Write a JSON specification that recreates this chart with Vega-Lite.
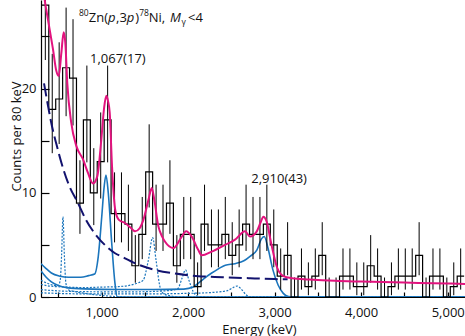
{
  "$schema": "https://vega.github.io/schema/vega-lite/v6.json",
  "width": 424,
  "height": 297,
  "autosize": {"type": "none"},
  "padding": {"left": 41, "top": 0, "right": 0, "bottom": 39},
  "config": {
    "view": {"stroke": null},
    "font": "Open Sans",
    "axis": {"labelFont": "Open Sans", "titleFont": "Open Sans", "labelFontSize": 13, "titleFontSize": 13, "titleFontWeight": "normal", "labelColor": "#111", "titleColor": "#111", "domainColor": "#000", "tickColor": "#000", "grid": false}
  },
  "datasets": {
    "hist": [
      {"E0": 310, "Ec": 350, "N": 28, "lo": 22.74, "hi": 34.36},
      {"E0": 390, "Ec": 430, "N": 18, "lo": 13.8, "hi": 23.33},
      {"E0": 470, "Ec": 510, "N": 19, "lo": 14.68, "hi": 24.44},
      {"E0": 550, "Ec": 590, "N": 22, "lo": 17.35, "hi": 27.77},
      {"E0": 630, "Ec": 670, "N": 21, "lo": 16.46, "hi": 26.66},
      {"E0": 710, "Ec": 750, "N": 9, "lo": 6.06, "hi": 13.12},
      {"E0": 790, "Ec": 830, "N": 17, "lo": 12.92, "hi": 22.21},
      {"E0": 870, "Ec": 910, "N": 10, "lo": 6.9, "hi": 14.28},
      {"E0": 950, "Ec": 990, "N": 13, "lo": 9.45, "hi": 17.71},
      {"E0": 1030, "Ec": 1070, "N": 17, "lo": 12.92, "hi": 22.21},
      {"E0": 1110, "Ec": 1150, "N": 8, "lo": 5.24, "hi": 11.96},
      {"E0": 1190, "Ec": 1230, "N": 8, "lo": 5.24, "hi": 11.96},
      {"E0": 1270, "Ec": 1310, "N": 7, "lo": 4.42, "hi": 10.78},
      {"E0": 1350, "Ec": 1390, "N": 3, "lo": 1.37, "hi": 5.94},
      {"E0": 1430, "Ec": 1470, "N": 6, "lo": 3.63, "hi": 9.6},
      {"E0": 1510, "Ec": 1550, "N": 12, "lo": 8.59, "hi": 16.57},
      {"E0": 1590, "Ec": 1630, "N": 7, "lo": 4.42, "hi": 10.78},
      {"E0": 1670, "Ec": 1710, "N": 7, "lo": 4.42, "hi": 10.78},
      {"E0": 1750, "Ec": 1790, "N": 9, "lo": 6.06, "hi": 13.12},
      {"E0": 1830, "Ec": 1870, "N": 3, "lo": 1.37, "hi": 5.94},
      {"E0": 1910, "Ec": 1950, "N": 6, "lo": 3.63, "hi": 9.6},
      {"E0": 1990, "Ec": 2030, "N": 6, "lo": 3.63, "hi": 9.6},
      {"E0": 2070, "Ec": 2110, "N": 1, "lo": 0.17, "hi": 3.32},
      {"E0": 2150, "Ec": 2190, "N": 7, "lo": 4.42, "hi": 10.78},
      {"E0": 2230, "Ec": 2270, "N": 5, "lo": 2.85, "hi": 8.4},
      {"E0": 2310, "Ec": 2350, "N": 5, "lo": 2.85, "hi": 8.4},
      {"E0": 2390, "Ec": 2430, "N": 6, "lo": 3.63, "hi": 9.6},
      {"E0": 2470, "Ec": 2510, "N": 4, "lo": 2.09, "hi": 7.18},
      {"E0": 2550, "Ec": 2590, "N": 5, "lo": 2.85, "hi": 8.4},
      {"E0": 2630, "Ec": 2670, "N": 7, "lo": 4.42, "hi": 10.78},
      {"E0": 2710, "Ec": 2750, "N": 6, "lo": 3.63, "hi": 9.6},
      {"E0": 2790, "Ec": 2830, "N": 6, "lo": 3.63, "hi": 9.6},
      {"E0": 2870, "Ec": 2910, "N": 7, "lo": 4.42, "hi": 10.78},
      {"E0": 2950, "Ec": 2990, "N": 5, "lo": 2.85, "hi": 8.4},
      {"E0": 3030, "Ec": 3070, "N": 2, "lo": 0.71, "hi": 4.66},
      {"E0": 3110, "Ec": 3150, "N": 4, "lo": 2.09, "hi": 7.18},
      {"E0": 3190, "Ec": 3230, "N": 0, "lo": 0, "hi": 1.87},
      {"E0": 3270, "Ec": 3310, "N": 2, "lo": 0.71, "hi": 4.66},
      {"E0": 3350, "Ec": 3390, "N": 1, "lo": 0.17, "hi": 3.32},
      {"E0": 3430, "Ec": 3470, "N": 2, "lo": 0.71, "hi": 4.66},
      {"E0": 3510, "Ec": 3550, "N": 4, "lo": 2.09, "hi": 7.18},
      {"E0": 3590, "Ec": 3630, "N": 0, "lo": 0, "hi": 1.87},
      {"E0": 3670, "Ec": 3710, "N": 0, "lo": 0, "hi": 1.87},
      {"E0": 3750, "Ec": 3790, "N": 2, "lo": 0.71, "hi": 4.66},
      {"E0": 3830, "Ec": 3870, "N": 2, "lo": 0.71, "hi": 4.66},
      {"E0": 3910, "Ec": 3950, "N": 1, "lo": 0.17, "hi": 3.32},
      {"E0": 3990, "Ec": 4030, "N": 1, "lo": 0.17, "hi": 3.32},
      {"E0": 4070, "Ec": 4110, "N": 3, "lo": 1.37, "hi": 5.94},
      {"E0": 4150, "Ec": 4190, "N": 2, "lo": 0.71, "hi": 4.66},
      {"E0": 4230, "Ec": 4270, "N": 0, "lo": 0, "hi": 1.87},
      {"E0": 4310, "Ec": 4350, "N": 1, "lo": 0.17, "hi": 3.32},
      {"E0": 4390, "Ec": 4430, "N": 2, "lo": 0.71, "hi": 4.66},
      {"E0": 4470, "Ec": 4510, "N": 2, "lo": 0.71, "hi": 4.66},
      {"E0": 4550, "Ec": 4590, "N": 2, "lo": 0.71, "hi": 4.66},
      {"E0": 4630, "Ec": 4670, "N": 4, "lo": 2.09, "hi": 7.18},
      {"E0": 4710, "Ec": 4750, "N": 0, "lo": 0, "hi": 1.87},
      {"E0": 4790, "Ec": 4830, "N": 2, "lo": 0.71, "hi": 4.66},
      {"E0": 4870, "Ec": 4910, "N": 2, "lo": 0.71, "hi": 4.66},
      {"E0": 4950, "Ec": 4990, "N": 0, "lo": 0, "hi": 1.87},
      {"E0": 5030, "Ec": 5070, "N": 1, "lo": 0.17, "hi": 3.32},
      {"E0": 5110, "Ec": 5150, "N": 2, "lo": 0.71, "hi": 4.66},
      {"E0": 5190, "N": 2}
    ],
    "curves": [
      {"s": "fit", "E": 300, "C": 31.5}, {"s": "fit", "E": 320, "C": 30.0}, {"s": "fit", "E": 343, "C": 28.5}, {"s": "fit", "E": 381, "C": 26.6}, {"s": "fit", "E": 439, "C": 23.75}, {"s": "fit", "E": 477, "C": 21.7}, {"s": "fit", "E": 505, "C": 21.2}, {"s": "fit", "E": 535, "C": 23.4}, {"s": "fit", "E": 562, "C": 25.4}, {"s": "fit", "E": 581, "C": 24.4}, {"s": "fit", "E": 604, "C": 20.5}, {"s": "fit", "E": 650, "C": 16.7}, {"s": "fit", "E": 708, "C": 14.5}, {"s": "fit", "E": 786, "C": 13.2}, {"s": "fit", "E": 843, "C": 11.9}, {"s": "fit", "E": 901, "C": 10.9}, {"s": "fit", "E": 951, "C": 11.6}, {"s": "fit", "E": 997, "C": 15.1}, {"s": "fit", "E": 1030, "C": 18.2}, {"s": "fit", "E": 1055, "C": 19.3}, {"s": "fit", "E": 1075, "C": 18.8}, {"s": "fit", "E": 1094, "C": 17.7}, {"s": "fit", "E": 1121, "C": 12.5}, {"s": "fit", "E": 1159, "C": 8.3}, {"s": "fit", "E": 1200, "C": 7.4}, {"s": "fit", "E": 1271, "C": 7.1}, {"s": "fit", "E": 1330, "C": 6.7}, {"s": "fit", "E": 1387, "C": 6.3}, {"s": "fit", "E": 1440, "C": 6.6}, {"s": "fit", "E": 1483, "C": 7.4}, {"s": "fit", "E": 1541, "C": 9.3}, {"s": "fit", "E": 1580, "C": 10.45}, {"s": "fit", "E": 1610, "C": 9.3}, {"s": "fit", "E": 1656, "C": 6.8}, {"s": "fit", "E": 1700, "C": 5.8}, {"s": "fit", "E": 1734, "C": 5.3}, {"s": "fit", "E": 1830, "C": 4.7}, {"s": "fit", "E": 1927, "C": 5.8}, {"s": "fit", "E": 1976, "C": 6.3}, {"s": "fit", "E": 2042, "C": 5.8}, {"s": "fit", "E": 2118, "C": 4.5}, {"s": "fit", "E": 2158, "C": 4.0}, {"s": "fit", "E": 2273, "C": 4.36}, {"s": "fit", "E": 2427, "C": 5.0}, {"s": "fit", "E": 2543, "C": 5.5}, {"s": "fit", "E": 2658, "C": 6.3}, {"s": "fit", "E": 2716, "C": 5.8}, {"s": "fit", "E": 2794, "C": 6.3}, {"s": "fit", "E": 2840, "C": 7.2}, {"s": "fit", "E": 2870, "C": 7.7}, {"s": "fit", "E": 2909, "C": 7.2}, {"s": "fit", "E": 2959, "C": 5.2}, {"s": "fit", "E": 3025, "C": 2.9}, {"s": "fit", "E": 3101, "C": 2.0}, {"s": "fit", "E": 3200, "C": 1.8}, {"s": "fit", "E": 3400, "C": 1.68}, {"s": "fit", "E": 3700, "C": 1.55}, {"s": "fit", "E": 4000, "C": 1.48}, {"s": "fit", "E": 4500, "C": 1.38}, {"s": "fit", "E": 5000, "C": 1.3}, {"s": "fit", "E": 5200, "C": 1.25},
      {"s": "bg", "E": 335, "C": 20.5}, {"s": "bg", "E": 380, "C": 18.4}, {"s": "bg", "E": 419, "C": 16.7}, {"s": "bg", "E": 480, "C": 14.6}, {"s": "bg", "E": 535, "C": 12.9}, {"s": "bg", "E": 620, "C": 10.8}, {"s": "bg", "E": 728, "C": 9.0}, {"s": "bg", "E": 820, "C": 7.4}, {"s": "bg", "E": 921, "C": 6.1}, {"s": "bg", "E": 1050, "C": 4.9}, {"s": "bg", "E": 1156, "C": 4.2}, {"s": "bg", "E": 1228, "C": 3.9}, {"s": "bg", "E": 1400, "C": 3.2}, {"s": "bg", "E": 1618, "C": 2.6}, {"s": "bg", "E": 1850, "C": 2.25}, {"s": "bg", "E": 2118, "C": 2.0}, {"s": "bg", "E": 2400, "C": 1.9}, {"s": "bg", "E": 2716, "C": 1.8}, {"s": "bg", "E": 3000, "C": 1.72}, {"s": "bg", "E": 3150, "C": 1.7},
      {"s": "r1067", "E": 300, "C": 3.2}, {"s": "r1067", "E": 350, "C": 2.8}, {"s": "r1067", "E": 420, "C": 2.3}, {"s": "r1067", "E": 520, "C": 2.0}, {"s": "r1067", "E": 620, "C": 1.9}, {"s": "r1067", "E": 760, "C": 1.9}, {"s": "r1067", "E": 850, "C": 2.05}, {"s": "r1067", "E": 920, "C": 2.2}, {"s": "r1067", "E": 962, "C": 3.9}, {"s": "r1067", "E": 1002, "C": 7.7}, {"s": "r1067", "E": 1030, "C": 10.6}, {"s": "r1067", "E": 1051, "C": 11.7}, {"s": "r1067", "E": 1078, "C": 9.95}, {"s": "r1067", "E": 1117, "C": 5.2}, {"s": "r1067", "E": 1155, "C": 1.3}, {"s": "r1067", "E": 1182, "C": 0}, {"s": "r1067", "E": 5200, "C": 0},
      {"s": "r2910", "E": 300, "C": 2.5}, {"s": "r2910", "E": 360, "C": 1.9}, {"s": "r2910", "E": 420, "C": 1.45}, {"s": "r2910", "E": 500, "C": 1.1}, {"s": "r2910", "E": 600, "C": 0.9}, {"s": "r2910", "E": 800, "C": 0.78}, {"s": "r2910", "E": 1200, "C": 0.72}, {"s": "r2910", "E": 1600, "C": 0.72}, {"s": "r2910", "E": 1950, "C": 0.76}, {"s": "r2910", "E": 2060, "C": 0.95}, {"s": "r2910", "E": 2100, "C": 1.2}, {"s": "r2910", "E": 2180, "C": 1.75}, {"s": "r2910", "E": 2273, "C": 2.3}, {"s": "r2910", "E": 2350, "C": 2.7}, {"s": "r2910", "E": 2430, "C": 3.05}, {"s": "r2910", "E": 2543, "C": 3.2}, {"s": "r2910", "E": 2650, "C": 3.5}, {"s": "r2910", "E": 2716, "C": 3.9}, {"s": "r2910", "E": 2794, "C": 4.5}, {"s": "r2910", "E": 2850, "C": 5.6}, {"s": "r2910", "E": 2880, "C": 5.8}, {"s": "r2910", "E": 2920, "C": 4.8}, {"s": "r2910", "E": 2980, "C": 2.6}, {"s": "r2910", "E": 3040, "C": 1.15}, {"s": "r2910", "E": 3100, "C": 0.35}, {"s": "r2910", "E": 3160, "C": 0.05}, {"s": "r2910", "E": 3250, "C": 0}, {"s": "r2910", "E": 5200, "C": 0},
      {"s": "d550", "E": 300, "C": 1.6}, {"s": "d550", "E": 380, "C": 1.3}, {"s": "d550", "E": 460, "C": 1.1}, {"s": "d550", "E": 500, "C": 1.1}, {"s": "d550", "E": 522, "C": 1.6}, {"s": "d550", "E": 538, "C": 4.0}, {"s": "d550", "E": 554, "C": 7.7}, {"s": "d550", "E": 570, "C": 4.0}, {"s": "d550", "E": 588, "C": 1.3}, {"s": "d550", "E": 615, "C": 0.7}, {"s": "d550", "E": 700, "C": 0.5}, {"s": "d550", "E": 850, "C": 0.3}, {"s": "d550", "E": 1000, "C": 0.15}, {"s": "d550", "E": 1150, "C": 0.05}, {"s": "d550", "E": 1300, "C": 0}, {"s": "d550", "E": 5200, "C": 0},
      {"s": "d1590", "E": 300, "C": 1.2}, {"s": "d1590", "E": 400, "C": 1.05}, {"s": "d1590", "E": 600, "C": 0.95}, {"s": "d1590", "E": 800, "C": 0.9}, {"s": "d1590", "E": 1000, "C": 0.95}, {"s": "d1590", "E": 1200, "C": 1.0}, {"s": "d1590", "E": 1400, "C": 1.3}, {"s": "d1590", "E": 1480, "C": 1.6}, {"s": "d1590", "E": 1540, "C": 3.5}, {"s": "d1590", "E": 1590, "C": 5.7}, {"s": "d1590", "E": 1630, "C": 3.5}, {"s": "d1590", "E": 1680, "C": 0.8}, {"s": "d1590", "E": 1720, "C": 0.3}, {"s": "d1590", "E": 1800, "C": 0.1}, {"s": "d1590", "E": 1900, "C": 0}, {"s": "d1590", "E": 5200, "C": 0},
      {"s": "d1970", "E": 300, "C": 0.7}, {"s": "d1970", "E": 600, "C": 0.55}, {"s": "d1970", "E": 1000, "C": 0.5}, {"s": "d1970", "E": 1400, "C": 0.5}, {"s": "d1970", "E": 1750, "C": 0.6}, {"s": "d1970", "E": 1880, "C": 0.8}, {"s": "d1970", "E": 1930, "C": 1.8}, {"s": "d1970", "E": 1970, "C": 2.6}, {"s": "d1970", "E": 2010, "C": 1.6}, {"s": "d1970", "E": 2060, "C": 0.5}, {"s": "d1970", "E": 2100, "C": 0.1}, {"s": "d1970", "E": 2200, "C": 0}, {"s": "d1970", "E": 5200, "C": 0},
      {"s": "d2566", "E": 300, "C": 0.4}, {"s": "d2566", "E": 800, "C": 0.3}, {"s": "d2566", "E": 1500, "C": 0.3}, {"s": "d2566", "E": 2000, "C": 0.35}, {"s": "d2566", "E": 2300, "C": 0.45}, {"s": "d2566", "E": 2450, "C": 0.6}, {"s": "d2566", "E": 2520, "C": 0.9}, {"s": "d2566", "E": 2566, "C": 1.05}, {"s": "d2566", "E": 2610, "C": 0.8}, {"s": "d2566", "E": 2660, "C": 0.3}, {"s": "d2566", "E": 2700, "C": 0.05}, {"s": "d2566", "E": 2800, "C": 0}, {"s": "d2566", "E": 5200, "C": 0}
    ],
    "titleNormal": [
      {"E": 852, "C": 26.4, "t": "Zn("}, {"E": 1168, "C": 26.4, "t": ",3"}, {"E": 1388, "C": 26.4, "t": ")"}, {"E": 1545, "C": 26.4, "t": "Ni,"}, {"E": 2000, "C": 26.4, "t": "<4"}
    ],
    "titleItalic": [
      {"E": 1073, "C": 26.4, "t": "p"}, {"E": 1290, "C": 26.4, "t": "p"}, {"E": 1791, "C": 26.4, "t": "M"}
    ],
    "titleSup": [
      {"E": 739, "C": 26.4, "t": "80"}, {"E": 1434, "C": 26.4, "t": "78"}
    ],
    "titleSub": [
      {"E": 1925, "C": 26.4, "t": "γ"}
    ],
    "peaks": [
      {"E": 1188, "C": 22.45, "t": "1,067(17)"}, {"E": 3052, "C": 10.97, "t": "2,910(43)"}
    ]
  },
  "layer": [
    {
      "data": {"name": "curves"},
      "transform": [{"filter": "indexof(['d550','d1590','d1970','d2566'], datum.s) >= 0"}],
      "mark": {"type": "line", "color": "#1B75BC", "strokeWidth": 1.2, "strokeDash": [2, 1.5], "interpolate": "monotone", "clip": true},
      "encoding": {
        "x": {"field": "E", "type": "quantitative", "scale": {"domain": [300, 5200], "nice": false, "zero": false},
          "title": "Energy (keV)",
          "axis": {"values": [500, 1000, 1500, 2000, 2500, 3000, 3500, 4000, 4500, 5000], "labelExpr": "datum.value % 1000 === 0 ? format(datum.value, ',') : ''", "tickSize": -5, "labelPadding": 14, "domainWidth": 1.2, "tickWidth": 1.2, "titleX": 218, "titleY": 36, "titleBaseline": "alphabetic", "titleAlign": "center", "labelFlush": false,
            "encode": {"ticks": {"update": {"y2": {"signal": "datum.value % 1000 === 0 ? -6 : -3"}}}}}},
        "y": {"field": "C", "type": "quantitative", "scale": {"domain": [0, 28.5], "nice": false},
          "title": "Counts per 80 keV",
          "axis": {"values": [0, 5, 10, 15, 20, 25], "labelExpr": "datum.value % 10 === 0 ? datum.label : ''", "tickSize": -8, "labelPadding": 13, "domainWidth": 1.2, "tickWidth": 1.2, "titleX": -21, "titleY": 136, "titleAngle": 270, "titleBaseline": "alphabetic", "titleAlign": "center", "labelFlush": false}},
        "detail": {"field": "s"}
      }
    },
    {
      "data": {"name": "curves"},
      "transform": [{"filter": "datum.s === 'r1067' || datum.s === 'r2910'"}],
      "mark": {"type": "line", "color": "#1B75BC", "strokeWidth": 1.6, "interpolate": "monotone", "clip": true},
      "encoding": {
        "x": {"field": "E", "type": "quantitative", "title": "Energy (keV)"},
        "y": {"field": "C", "type": "quantitative", "title": "Counts per 80 keV"},
        "detail": {"field": "s"}
      }
    },
    {
      "data": {"name": "hist"},
      "mark": {"type": "line", "color": "#000", "strokeWidth": 1.2, "interpolate": "step-after", "clip": true},
      "encoding": {
        "x": {"field": "E0", "type": "quantitative", "title": "Energy (keV)"},
        "y": {"field": "N", "type": "quantitative", "title": "Counts per 80 keV"}
      }
    },
    {
      "data": {"name": "hist"},
      "mark": {"type": "rule", "color": "#000", "strokeWidth": 1, "clip": true},
      "encoding": {
        "x": {"field": "Ec", "type": "quantitative", "title": "Energy (keV)"},
        "y": {"field": "lo", "type": "quantitative", "title": "Counts per 80 keV"},
        "y2": {"field": "hi"}
      }
    },
    {
      "data": {"name": "curves"},
      "transform": [{"filter": "datum.s === 'bg'"}],
      "mark": {"type": "line", "color": "#12126E", "strokeWidth": 2, "strokeDash": [13, 5], "interpolate": "monotone", "clip": true},
      "encoding": {
        "x": {"field": "E", "type": "quantitative", "title": "Energy (keV)"},
        "y": {"field": "C", "type": "quantitative", "title": "Counts per 80 keV"}
      }
    },
    {
      "data": {"name": "curves"},
      "transform": [{"filter": "datum.s === 'fit'"}],
      "mark": {"type": "line", "color": "#E2137E", "strokeWidth": 2, "interpolate": "monotone", "clip": true},
      "encoding": {
        "x": {"field": "E", "type": "quantitative", "title": "Energy (keV)"},
        "y": {"field": "C", "type": "quantitative", "title": "Counts per 80 keV"}
      }
    },
    {
      "data": {"name": "titleNormal"},
      "mark": {"type": "text", "font": "Open Sans", "fontSize": 13, "align": "left", "baseline": "alphabetic", "color": "#111"},
      "encoding": {
        "x": {"field": "E", "type": "quantitative", "title": "Energy (keV)"},
        "y": {"field": "C", "type": "quantitative", "title": "Counts per 80 keV"},
        "text": {"field": "t"}
      }
    },
    {
      "data": {"name": "titleItalic"},
      "mark": {"type": "text", "font": "Open Sans", "fontSize": 13, "fontStyle": "italic", "align": "left", "baseline": "alphabetic", "color": "#111"},
      "encoding": {
        "x": {"field": "E", "type": "quantitative", "title": "Energy (keV)"},
        "y": {"field": "C", "type": "quantitative", "title": "Counts per 80 keV"},
        "text": {"field": "t"}
      }
    },
    {
      "data": {"name": "titleSup"},
      "mark": {"type": "text", "font": "Open Sans", "fontSize": 8.5, "align": "left", "baseline": "alphabetic", "dy": -6, "color": "#111"},
      "encoding": {
        "x": {"field": "E", "type": "quantitative", "title": "Energy (keV)"},
        "y": {"field": "C", "type": "quantitative", "title": "Counts per 80 keV"},
        "text": {"field": "t"}
      }
    },
    {
      "data": {"name": "titleSub"},
      "mark": {"type": "text", "font": "Open Sans", "fontSize": 8.5, "align": "left", "baseline": "alphabetic", "dy": 3, "color": "#111"},
      "encoding": {
        "x": {"field": "E", "type": "quantitative", "title": "Energy (keV)"},
        "y": {"field": "C", "type": "quantitative", "title": "Counts per 80 keV"},
        "text": {"field": "t"}
      }
    },
    {
      "data": {"name": "peaks"},
      "mark": {"type": "text", "font": "Open Sans", "fontSize": 13, "align": "center", "baseline": "alphabetic", "color": "#111"},
      "encoding": {
        "x": {"field": "E", "type": "quantitative", "title": "Energy (keV)"},
        "y": {"field": "C", "type": "quantitative", "title": "Counts per 80 keV"},
        "text": {"field": "t"}
      }
    }
  ]
}
